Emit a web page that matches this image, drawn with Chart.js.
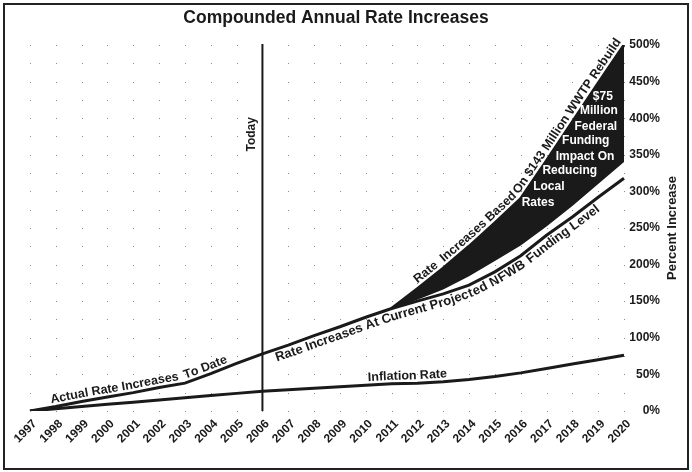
<!DOCTYPE html>
<html>
<head>
<meta charset="utf-8">
<script src="https://cdn.jsdelivr.net/npm/chart.js@4.4.0/dist/chart.umd.min.js"></script>
<style>
  html, body { margin: 0; padding: 0; background: #fff; }
  #wrap { width: 692px; height: 472px; }
</style>
</head>
<body>
<div id="wrap"><canvas id="chart" width="692" height="472"></canvas></div>
<script>
const years = ["1997", "1998", "1999", "2000", "2001", "2002", "2003", "2004", "2005", "2006", "2007", "2008",
  "2009", "2010", "2011", "2012", "2013", "2014", "2015", "2016", "2017", "2018", "2019", "2020"];

// percent increase
const actualToDate = [0, 6, 13, 19, 25, 32, 38, 51, 65, 78,
  null, null, null, null, null, null, null, null, null, null, null, null, null, null];
const currentProjected = [null, null, null, null, null, null, null, null, null,
  78, 90, 103, 115, 128, 140, 150, 160, 172, 190, 212, 240, 265, 292, 318];
const wwtpRebuild = [null, null, null, null, null, null, null, null, null, null, null, null, null, null,
  140, 167, 195, 225, 257, 290, 342, 395, 448, 500];
const federalImpact = [null, null, null, null, null, null, null, null, null, null, null, null, null, null,
  140, 152, 166, 184, 205, 226, 252, 280, 310, 340];
const inflation = [0, 3, 6, 9, 12, 15, 18, 21, 24, 27, 29, 31, 33, 35, 37, 38, 40, 43, 47, 52, 58, 64, 70, 76];

const impactLines = ["$75", "Million", "Federal", "Funding", "Impact On", "Reducing", "Local", "Rates"];

const FONT = "'Liberation Sans', Arial, Helvetica, sans-serif";
const INK = "#1a1a1a";

function lineSet(label, data) {
  return {
    label: label,
    data: data,
    borderColor: INK,
    borderWidth: 3,
    pointRadius: 0,
    tension: 0,
    fill: false,
  };
}

// writes text along the drawn polyline of a dataset
function textOnPath(ctx, pts, text, startX, offset) {
  const segs = [];
  let total = 0;
  for (let i = 1; i < pts.length; i++) {
    const a = pts[i - 1], b = pts[i];
    const len = Math.hypot(b.x - a.x, b.y - a.y);
    segs.push({ a, b, len, start: total });
    total += len;
  }
  const pos = (d) => {
    let g = segs.find((s) => d <= s.start + s.len);
    if (!g) g = segs[segs.length - 1];
    if (d < 0) g = segs[0];
    const t = (d - g.start) / g.len;
    return { x: g.a.x + (g.b.x - g.a.x) * t, y: g.a.y + (g.b.y - g.a.y) * t };
  };
  let s = 0;
  for (const g of segs) {
    if (startX <= g.b.x) {
      s = g.start + ((startX - g.a.x) / (g.b.x - g.a.x)) * g.len;
      break;
    }
  }
  for (const ch of text) {
    const w = ctx.measureText(ch).width;
    const mid = s + w / 2;
    const p = pos(mid);
    const p1 = pos(mid - 6), p2 = pos(mid + 6);
    const ang = Math.atan2(p2.y - p1.y, p2.x - p1.x);
    ctx.save();
    ctx.translate(p.x, p.y);
    ctx.rotate(ang);
    ctx.fillText(ch, 0, offset);
    ctx.restore();
    s += w;
  }
}

function pathOf(chart, i) {
  return chart.getDatasetMeta(i).data.filter((el) => !el.skip).map((el) => ({ x: el.x, y: el.y }));
}

const decor = {
  id: "decor",
  beforeDatasetsDraw(chart) {
    const { ctx, scales } = chart;
    ctx.save();
    ctx.fillStyle = "#8c8c8c";
    for (let i = 0; i < years.length; i++) {
      const x = Math.round(scales.x.getPixelForValue(i));
      for (let v = 0; v <= 500; v += 25) {
        const y = Math.round(scales.y.getPixelForValue(v));
        ctx.fillRect(x, y, 1, 1);
      }
    }
    ctx.restore();
  },
  afterDatasetsDraw(chart) {
    const { ctx, scales, chartArea } = chart;
    ctx.save();
    // "Today" marker
    const tx = scales.x.getPixelForValue(9);
    ctx.strokeStyle = INK;
    ctx.lineWidth = 2;
    ctx.beginPath();
    ctx.moveTo(tx, chartArea.top - 1);
    ctx.lineTo(tx, chartArea.bottom);
    ctx.stroke();

    ctx.fillStyle = INK;
    ctx.font = "bold 12px " + FONT;
    ctx.textAlign = "center";
    ctx.textBaseline = "middle";
    ctx.save();
    ctx.translate(tx - 11, scales.y.getPixelForValue(378));
    ctx.rotate(-Math.PI / 2);
    ctx.fillText("Today", 0, 0);
    ctx.restore();

    // labels that follow the lines
    ctx.textBaseline = "alphabetic";
    const at = (i) => scales.x.getPixelForValue(i);
    ctx.font = "bold 12.5px " + FONT;
    textOnPath(ctx, pathOf(chart, 0), "Actual Rate Increases  To Date", at(0.85), -4);
    textOnPath(ctx, pathOf(chart, 4), "Inflation Rate", at(13.1), -4);
    textOnPath(ctx, pathOf(chart, 2), "Rate  Increases Based On $143 Million WWTP Rebuild", at(15.1), -4);
    ctx.font = "bold 13px " + FONT;
    textOnPath(ctx, pathOf(chart, 1), "Rate Increases At Current Projected NFWB Funding Level", at(9.41), 12);

    // white text inside the black wedge
    const spots = [[22.18, 430], [22.03, 410], [21.91, 389], [21.52, 369], [21.49, 348], [20.9, 328], [20.09, 306], [19.67, 285]];
    ctx.font = "bold 12px " + FONT;
    ctx.fillStyle = "#fff";
    ctx.textBaseline = "middle";
    impactLines.forEach((t, k) => {
      ctx.fillText(t, scales.x.getPixelForValue(spots[k][0]), scales.y.getPixelForValue(spots[k][1]));
    });

    // axis title, reading upward
    ctx.fillStyle = INK;
    ctx.font = "bold 13px " + FONT;
    ctx.translate(scales.y.right + 12, (chartArea.top + chartArea.bottom) / 2);
    ctx.rotate(-Math.PI / 2);
    ctx.fillText("Percent Increase", 0, 0);
    ctx.restore();
  },
  afterDraw(chart) {
    const ctx = chart.ctx;
    ctx.save();
    ctx.strokeStyle = "#222";
    ctx.lineWidth = 2;
    ctx.strokeRect(4, 4, 684, 465);
    ctx.restore();
  },
};

const ctx = document.getElementById("chart");

const chart = new Chart(ctx, {
  type: "line",
  data: {
    labels: years,
    datasets: [
      lineSet("Actual Rate Increases To Date", actualToDate),
      lineSet("Rate Increases At Current Projected NFWB Funding Level", currentProjected),
      Object.assign(lineSet("Rate Increases Based On $143 Million WWTP Rebuild", wwtpRebuild), {
        fill: "+1",
        backgroundColor: INK,
      }),
      Object.assign(lineSet("$75 Million Federal Funding Impact", federalImpact), {
        borderColor: "rgba(0,0,0,0)",
        borderWidth: 0,
      }),
      lineSet("Inflation Rate", inflation),
    ],
  },
  options: {
    responsive: false,
    animation: false,
    layout: {
      padding: { left: 12, right: 32, top: 0, bottom: 20 },
    },
    plugins: {
      legend: { display: false },
      tooltip: { enabled: false },
      title: {
        display: true,
        text: "Compounded Annual Rate Increases",
        color: INK,
        font: { size: 17.5, weight: "bold", family: FONT },
        padding: { top: 8, bottom: 16 },
      },
    },
    scales: {
      x: {
        grid: { display: false, drawTicks: false },
        border: { display: false },
        afterFit: (scale) => { scale.paddingLeft = 30; },
        ticks: {
          autoSkip: false,
          minRotation: 45,
          maxRotation: 45,
          labelOffset: 5,
          color: INK,
          padding: 6,
          font: { size: 12, weight: "bold", family: FONT },
        },
      },
      y: {
        position: "right",
        min: 0,
        max: 500,
        grid: { display: false, drawTicks: false },
        border: { display: false },
        afterFit: (scale) => { scale.width = 36; },
        ticks: {
          stepSize: 50,
          crossAlign: "far",
          color: INK,
          padding: 0,
          font: { size: 12, weight: "bold", family: FONT },
          callback: (v) => v + "%",
        },
      },
    },
  },
  plugins: [decor],
});
</script>
</body>
</html>
